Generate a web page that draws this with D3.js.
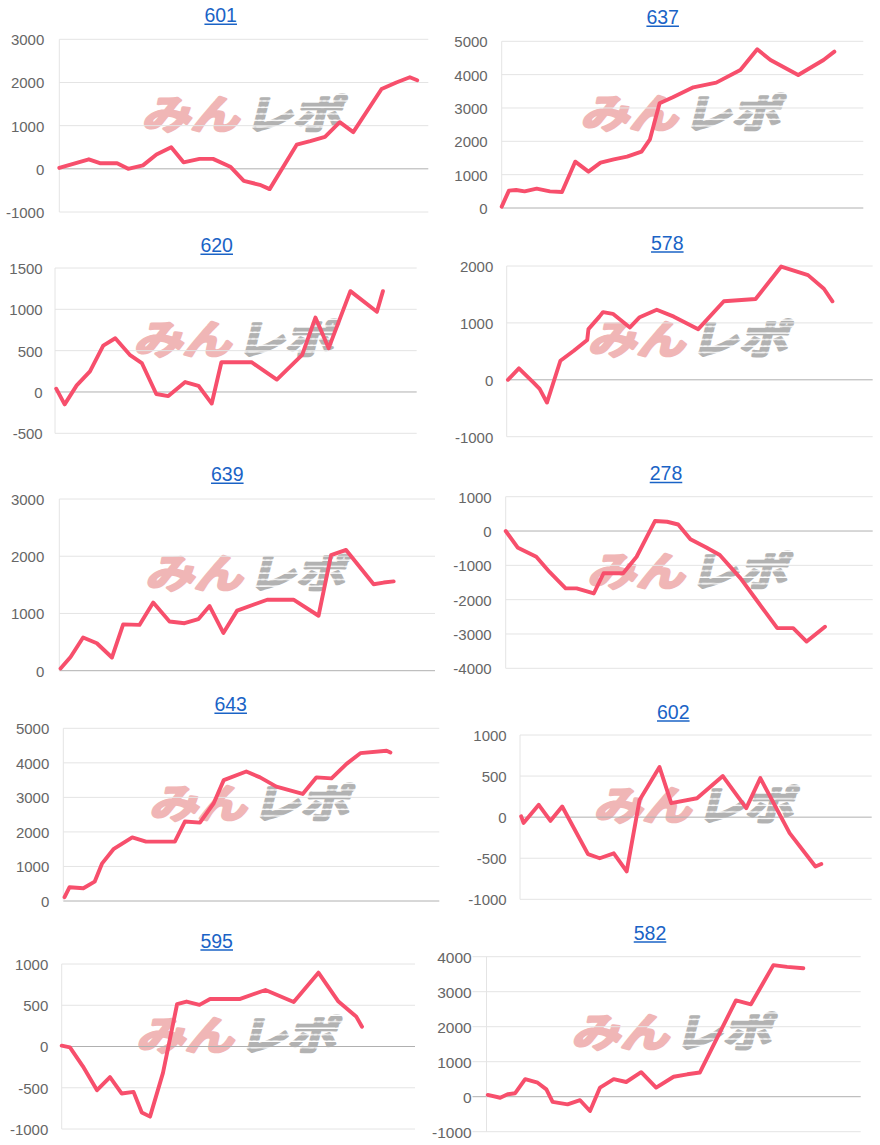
<!DOCTYPE html>
<html><head><meta charset="utf-8">
<script src="https://cdn.jsdelivr.net/npm/d3@7"></script>
<style>body{margin:0;background:#fff}svg{display:block}</style>
</head><body><svg id="c" width="880" height="1145"></svg>
<script>
// ---------- data ----------
const titles = ["601","637","620","578","639","278","643","602","595","582"];

const days601 = [0,2.4,3.3,4.7,5.6,6.8,7.9,9.1,10.1,11.4,12.5,13.9,15.0,16.3,17.1,19.3,20.4,21.6,22.8,23.9,26.2,27.4,28.5,29.1];
const vals601 = [20,220,130,130,0,80,330,500,150,230,230,50,-280,-370,-470,560,640,740,1080,850,1850,2000,2120,2050];
const ticks601 = [-1000,0,1000,2000,3000];

const days637 = [0,0.6,1.2,1.9,2.9,4.0,5.0,6.1,7.2,8.2,9.3,10.4,11.6,12.3,13.1,14.2,15.9,17.8,19.8,21.2,22.3,24.6,26.7,27.6];
const vals637 = [40,520,540,500,580,500,480,1390,1090,1360,1460,1540,1690,2060,3140,3320,3620,3760,4140,4760,4440,3990,4440,4690];
const ticks637 = [0,1000,2000,3000,4000,5000];

const days620 = [0.1,0.8,1.8,2.9,4.0,5.0,6.2,7.2,8.4,9.4,10.8,11.9,13.0,13.8,16.3,18.4,20.5,21.6,22.7,24.5,26.7,27.2];
const vals620 = [40,-150,80,250,560,650,450,350,-25,-50,120,75,-140,360,360,150,450,900,530,1220,970,1220];
const ticks620 = [-500,0,500,1000,1500];

const days578 = [0.1,1.0,2.2,2.7,3.3,4.4,5.5,6.6,6.7,7.6,7.9,8.7,10.1,10.9,12.3,13.7,15.7,17.8,20.4,22.5,24.7,26.0,26.7];
const vals578 = [0,200,-50,-160,-400,335,510,700,890,1110,1190,1160,920,1100,1230,1110,890,1380,1420,1990,1840,1600,1380];
const ticks578 = [-1000,0,1000,2000];

const days639 = [0.1,0.9,1.9,3.0,4.2,5.1,6.4,7.5,8.8,10.0,11.1,12.0,13.1,14.2,16.6,18.7,20.7,21.7,22.9,25.1,25.9,26.7];
const vals639 = [40,240,580,480,230,810,800,1190,860,830,900,1130,660,1050,1240,1240,960,2020,2110,1510,1540,1560];
const ticks639 = [0,1000,2000,3000];

const days278 = [0,1.0,2.5,3.6,4.9,5.8,7.2,8.0,9.6,10.7,12.2,13.2,14.1,15.1,16.4,17.5,19.2,20.5,22.2,23.5,24.6,26.1];
const vals278 = [0,-490,-750,-1200,-1670,-1670,-1820,-1230,-1230,-750,290,270,190,-240,-480,-700,-1380,-2010,-2830,-2830,-3220,-2790];
const ticks278 = [-4000,-3000,-2000,-1000,0,1000];

const days643 = [0.1,0.5,1.6,2.5,3.1,4.0,5.5,6.6,8.9,9.7,10.9,12.0,12.8,14.6,15.7,17.0,19.1,20.2,21.4,22.6,23.7,25.8,26.1];
const vals643 = [110,400,370,560,1090,1500,1840,1720,1720,2300,2270,2830,3500,3750,3580,3310,3100,3580,3550,3970,4280,4350,4300];
const ticks643 = [0,1000,2000,3000,4000,5000];

const days602 = [0.1,0.3,1.6,2.6,3.6,5.8,6.8,8.0,9.1,10.2,11.9,12.9,15.1,17.3,19.3,20.5,23.0,25.2,25.7];
const vals602 = [10,-70,150,-45,130,-450,-500,-440,-660,210,610,170,230,500,110,475,-195,-600,-570];
const ticks602 = [-1000,-500,0,500,1000];

const days595 = [0,0.7,1.8,3.0,4.1,5.1,6.1,6.8,7.5,8.6,9.8,10.6,11.7,12.6,15.1,17.3,19.7,21.8,23.5,25.0,25.5];
const vals595 = [10,-10,-240,-530,-370,-570,-550,-800,-850,-320,515,545,505,575,575,685,540,895,545,365,240];
const ticks595 = [-1000,-500,0,500,1000];

const days582 = [0.1,1.1,1.7,2.3,3.1,4.1,4.8,5.3,6.5,7.5,8.3,9.1,10.2,11.2,12.4,13.6,15.0,16.1,17.1,18.5,20.0,21.2,23.0,24.1,25.4];
const vals582 = [50,-30,70,100,500,400,210,-150,-220,-100,-410,260,500,420,700,260,570,640,690,1690,2750,2640,3760,3710,3670];
const ticks582 = [-1000,0,1000,2000,3000,4000];

const series = [
  {days:days601, vals:vals601, ticks:ticks601},
  {days:days637, vals:vals637, ticks:ticks637},
  {days:days620, vals:vals620, ticks:ticks620},
  {days:days578, vals:vals578, ticks:ticks578},
  {days:days639, vals:vals639, ticks:ticks639},
  {days:days278, vals:vals278, ticks:ticks278},
  {days:days643, vals:vals643, ticks:ticks643},
  {days:days602, vals:vals602, ticks:ticks602},
  {days:days595, vals:vals595, ticks:ticks595},
  {days:days582, vals:vals582, ticks:ticks582}
];

// ---------- layout (pixels) ----------
const layout = [
  {tx:220.7, ty:15,    L:59.3,  R:428.3, T:39.3,  B:212,   lr:44.3,  ext:0,  fs:15},
  {tx:662.7, ty:17,    L:501.7, R:863.3, T:41.3,  B:208,   lr:487.7, ext:0,  fs:15},
  {tx:216.7, ty:245,   L:55,    R:416.7, T:268,   B:433.3, lr:42.7,  ext:0,  fs:15},
  {tx:667.3, ty:242.7, L:506.7, R:872.7, T:266,   B:436.7, lr:493.3, ext:0,  fs:15},
  {tx:227.3, ty:474,   L:59.3,  R:435,   T:499,   B:670.7, lr:44.3,  ext:0,  fs:15},
  {tx:666,   ty:473.3, L:505.7, R:872.7, T:496.7, B:668.3, lr:491.7, ext:0,  fs:15},
  {tx:230.7, ty:704,   L:63.3,  R:439.3, T:728.3, B:901,   lr:49.3,  ext:0,  fs:15},
  {tx:673.3, ty:711.7, L:520,   R:871.7, T:735,   B:899.3, lr:506.7, ext:0,  fs:15},
  {tx:216.7, ty:940.7, L:61.7,  R:415,   T:964,   B:1129,  lr:48.3,  ext:0,  fs:15},
  {tx:650,   ty:932.7, L:486.5, R:860.7, T:956.7, B:1131.7,lr:471.7, ext:14, fs:15.5}
];

const FONT = "'Liberation Sans', Arial, Helvetica, sans-serif";
const svg = d3.select("#c");
const defs = svg.append("defs");
const pat = defs.append("pattern").attr("id","stripes").attr("patternUnits","userSpaceOnUse")
  .attr("width",8).attr("height",6.5);
pat.append("rect").attr("x",0).attr("y",0).attr("width",8).attr("height",5).attr("fill","#b2b2b2");

series.forEach((s,i)=>{
  const g = layout[i];
  const x = d3.scaleLinear().domain([0,30]).range([g.L,g.R]);
  const y = d3.scaleLinear().domain(d3.extent(s.ticks)).range([g.B,g.T]);
  const p = svg.append("g");

  // watermark
  const wx=(g.L+g.R)/2, wy=(g.T+g.B)/2 - 11;
  const wm = p.append("g").attr("transform",`translate(${wx},${wy}) skewX(-14) scale(1.22,1)`)
    .attr("font-family","'Noto Sans CJK JP', sans-serif").attr("font-weight","bold").attr("font-size",40)
    .attr("stroke-linejoin","round");
  wm.append("text").attr("x",-1).attr("y",14).attr("text-anchor","end")
    .attr("fill","#f0b6b6").attr("stroke","#f0b6b6").attr("stroke-width",2.6).text("みん");
  wm.append("text").attr("x",3).attr("y",14).attr("text-anchor","start")
    .attr("fill","url(#stripes)").attr("stroke","url(#stripes)").attr("stroke-width",2.6).text("レポ");

  // gridlines
  p.append("g").selectAll("line").data(s.ticks).join("line")
    .attr("x1",g.L-g.ext).attr("x2",g.R).attr("y1",d=>y(d)).attr("y2",d=>y(d))
    .attr("stroke",d=>d===0?"#b0b0b0":"#e4e4e4").attr("stroke-width",1);
  p.append("line").attr("x1",g.L).attr("x2",g.L).attr("y1",g.T).attr("y2",g.B).attr("stroke","#e4e4e4");

  // y labels
  const ax = p.append("g").attr("transform",`translate(${g.lr},0)`)
    .call(d3.axisLeft(y).tickValues(s.ticks).tickSize(0).tickPadding(0).tickFormat(d=>String(d)));
  ax.select(".domain").remove();
  ax.selectAll("text").attr("font-family",FONT).attr("font-size",g.fs).attr("fill","#666").attr("x",0).attr("dy","0.36em");

  // line
  p.append("path").datum(d3.zip(s.days,s.vals))
    .attr("d", d3.line().x(d=>x(d[0])).y(d=>y(d[1])))
    .attr("fill","none").attr("stroke","#f74f6c").attr("stroke-width",3.9)
    .attr("stroke-linejoin","round").attr("stroke-linecap","round");

  // title
  const t = p.append("text").attr("x",g.tx).attr("y",g.ty+6.8).attr("text-anchor","middle")
    .attr("font-family",FONT).attr("font-size",19.5).attr("fill","#1a63c6").text(titles[i]);
  const w = t.node().getComputedTextLength();
  p.append("line").attr("x1",g.tx-w/2).attr("x2",g.tx+w/2).attr("y1",g.ty+9.3).attr("y2",g.ty+9.3)
    .attr("stroke","#1a63c6").attr("stroke-width",1.5);
});
</script></body></html>
